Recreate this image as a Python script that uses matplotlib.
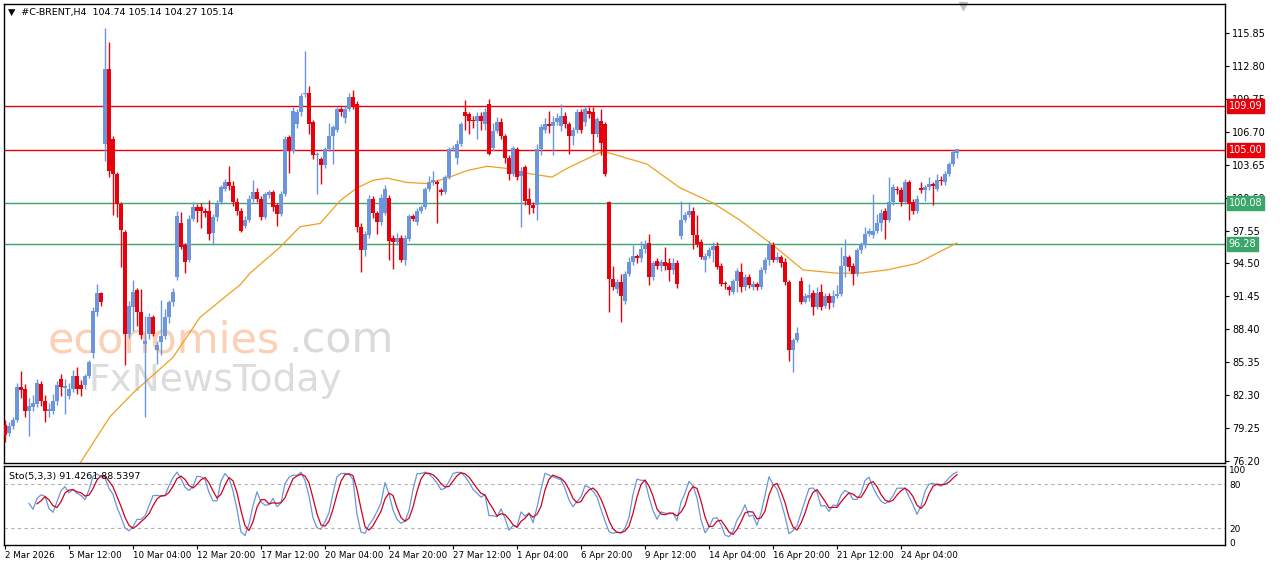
import numpy as np
import matplotlib
matplotlib.use("Agg")
import matplotlib.pyplot as plt

# ---- data (OHLC per H4 bar) ----
opens = [79.5,78.8,79.4,80.0,83.1,82.9,80.8,81.2,81.5,83.3,81.8,80.8,80.8,81.8,83.8,83.0,82.2,82.9,84.1,83.2,83.2,84.1,86.2,90.0,91.8,
 105.6,112.5,106.0,102.8,100.0,97.4,88.0,90.5,92.0,90.0,87.0,88.0,89.5,86.5,87.2,87.8,89.5,90.9,93.2,98.2,96.2,94.8,98.6,99.7,99.7,99.4,99.4,97.3,98.8,100.2,101.4,102.0,101.7,100.2,99.4,98.0,98.5,
 100.5,101.1,100.5,98.8,100.8,101.1,99.9,99.1,100.9,106.2,104.9,107.4,108.5,110.2,110.3,107.6,104.5,104.2,103.6,105.1,106.3,106.9,108.8,108.0,108.8,109.9,109.3,97.9,95.7,97.1,100.5,99.2,98.3,99.2,100.6,96.9,96.5,96.9,94.8,96.8,98.9,98.3,99.4,99.7,101.4,102.0,102.0,101.3,101.1,102.5,105.1,104.3,105.6,108.5,108.3,107.8,107.7,108.2,107.4,
 109.3,105.2,106.8,107.6,106.3,104.3,102.8,105.1,102.6,103.4,100.5,99.9,99.9,105.1,106.9,107.4,107.2,107.6,107.2,108.2,107.4,106.3,106.9,108.5,107.6,108.6,108.5,106.5,107.7,107.4,100.2,93.1,92.1,92.8,91.0,93.5,94.6,95.2,95.0,95.8,96.4,93.2,94.7,94.3,94.6,94.5,93.9,94.5,97.0,98.5,99.0,99.4,97.1,96.5,94.8,95.2,95.7,96.1,94.3,92.7,92.3,
 91.9,92.9,93.7,92.3,93.2,92.3,92.6,92.3,93.9,94.8,96.2,94.8,95.1,94.6,92.8,86.5,87.4,92.9,90.9,91.3,91.8,90.5,91.9,90.6,91.5,90.8,91.5,91.7,94.3,95.1,94.3,93.5,95.7,96.2,97.2,97.1,97.5,98.2,99.4,98.5,100.2,101.4,101.3,100.2,102.0,100.2,99.4,101.5,101.3,101.6,101.9,101.4,102.2,102.0,102.8,103.7,104.74]
highs = [80.0,79.8,80.3,83.4,84.5,83.3,82.0,82.3,83.8,83.6,82.3,81.6,82.4,83.6,84.3,83.8,83.4,84.6,84.9,83.7,84.3,85.6,90.5,92.6,91.9,
 116.3,115.0,106.3,103.0,100.2,97.6,91.0,93.0,92.2,92.1,89.6,89.9,89.7,87.3,91.1,90.3,91.1,92.2,99.4,99.3,96.4,99.0,100.2,100.0,100.1,99.6,100.4,99.1,100.4,101.8,102.3,103.5,102.1,100.6,99.6,98.9,100.8,
 102.2,101.5,100.7,101.1,101.3,101.3,100.1,101.2,106.3,106.4,109.0,108.8,110.3,114.2,110.9,107.8,104.8,104.4,105.3,107.5,107.3,109.0,109.0,109.1,110.3,110.6,109.5,98.2,97.5,100.8,100.7,99.4,100.9,101.8,100.8,97.1,97.3,97.1,97.1,99.1,99.1,99.6,99.9,101.6,102.6,103.1,102.2,101.5,102.7,105.3,105.5,105.9,107.6,109.6,108.5,108.2,108.5,108.5,108.9,
 109.7,107.5,108.1,108.0,106.5,104.5,105.4,105.3,103.4,103.6,101.5,100.2,105.6,107.4,108.0,108.6,108.2,108.4,109.3,108.5,107.6,107.1,108.8,108.8,109.1,109.0,109.0,108.1,108.8,107.6,100.3,94.3,93.1,93.5,93.8,95.1,96.2,95.4,96.6,96.7,97.2,94.7,95.0,94.9,96.0,95.0,95.0,94.8,100.3,99.3,100.2,99.7,99.0,96.8,95.5,96.0,96.5,96.5,94.5,92.9,92.5,
 93.1,94.1,94.5,93.5,93.5,92.9,92.8,94.2,95.1,96.6,96.5,95.6,95.3,95.0,93.0,87.6,88.6,93.2,91.8,92.6,92.0,92.3,92.6,91.8,91.8,92.0,92.5,96.0,96.8,95.3,94.5,95.9,96.5,97.9,97.8,100.9,99.1,99.5,99.6,102.5,101.9,101.7,101.6,102.3,102.2,100.5,100.8,102.0,101.8,102.5,102.0,102.8,102.6,103.1,103.9,105.0,105.14]
lows = [78.0,78.5,79.2,79.8,82.0,80.3,78.5,80.8,81.2,81.3,79.8,80.3,80.6,81.4,82.2,80.6,81.9,82.6,82.4,82.2,82.9,83.9,85.7,89.6,90.6,
 104.0,102.5,99.0,98.8,94.2,85.1,87.6,88.2,88.7,87.5,80.3,87.5,87.8,85.2,86.0,87.5,89.0,90.6,93.0,95.8,93.6,94.6,98.4,98.3,97.8,98.8,96.7,96.2,98.4,100.0,101.2,101.3,99.8,99.0,97.4,97.8,98.3,
 100.2,100.2,98.5,98.6,100.6,99.4,98.0,98.9,100.7,102.9,104.7,107.0,108.2,109.9,106.5,104.2,100.9,101.9,103.3,104.9,103.7,106.7,108.2,107.5,108.6,108.8,97.4,93.7,95.2,96.9,98.7,97.2,98.1,99.0,94.8,94.0,96.2,94.6,94.4,96.6,98.4,98.1,99.2,99.5,101.2,101.8,98.2,100.8,100.9,102.3,104.9,103.7,105.4,106.9,106.5,107.0,106.0,106.9,106.9,
 104.5,104.9,106.6,106.0,103.8,102.2,102.6,102.2,97.9,99.9,99.1,99.2,98.5,104.5,106.6,106.6,104.5,107.3,106.8,107.0,104.6,105.5,106.6,106.6,107.2,108.0,104.8,106.2,104.5,102.6,90.0,92.0,91.8,89.1,90.7,93.3,94.4,94.5,94.6,95.5,92.5,93.0,94.0,93.8,93.9,92.9,93.5,92.2,96.8,98.3,98.8,95.8,96.0,94.9,93.7,95.0,94.6,94.0,92.4,92.1,91.6,
 91.7,91.9,91.9,92.0,92.2,92.0,92.0,92.1,93.6,94.4,94.6,94.6,94.2,92.5,85.5,84.4,87.2,90.7,90.8,91.0,89.7,90.3,90.2,90.4,90.3,90.5,91.3,91.5,93.2,93.8,92.5,93.3,95.5,95.9,97.0,96.9,97.3,97.5,96.8,98.3,99.9,100.9,99.8,100.0,98.5,99.1,99.2,101.0,100.3,101.3,99.9,101.2,101.8,101.8,102.6,103.5,104.27]
closes = [78.6,79.4,80.0,83.1,82.8,80.8,81.3,81.6,83.4,81.8,80.8,81.0,81.8,83.2,83.1,83.0,82.9,84.1,82.9,82.9,84.1,85.4,90.1,91.8,90.9,
 112.5,103.1,102.8,100.0,97.6,88.0,90.6,91.9,90.0,87.9,87.3,89.5,88.0,86.9,87.8,89.5,90.9,91.9,98.9,96.0,94.6,98.6,99.7,99.4,99.4,99.2,97.2,98.8,100.0,101.6,102.0,101.7,100.2,99.4,97.5,98.5,100.5,
 101.1,100.5,98.8,100.9,101.1,99.7,99.1,100.9,106.0,104.9,108.6,108.5,110.0,110.3,107.4,104.5,104.6,103.6,105.1,106.3,107.1,108.8,108.5,108.8,109.9,109.1,97.9,95.7,97.2,100.5,99.2,98.3,100.6,101.4,96.6,96.5,96.9,94.8,96.9,98.9,98.6,99.4,99.7,101.4,102.0,102.2,101.9,101.1,102.5,105.1,105.2,105.6,107.4,108.2,107.7,107.7,108.2,107.7,108.5,
 104.6,106.8,107.6,106.3,104.3,102.8,105.2,102.5,103.1,100.3,99.9,99.6,105.1,107.1,107.4,107.2,107.6,108.0,108.2,107.4,106.3,106.9,108.5,106.9,108.8,108.3,106.5,107.9,105.7,102.8,93.1,92.3,92.8,91.5,93.5,94.6,95.2,95.0,95.8,96.2,93.2,94.5,94.3,94.6,94.3,93.9,94.5,92.6,98.5,99.0,99.4,97.1,96.3,95.1,95.2,95.7,96.1,94.2,92.6,92.6,92.0,
 92.9,93.8,92.3,93.2,92.5,92.6,92.3,93.9,94.8,96.2,94.8,95.1,94.5,92.8,86.5,87.4,88.1,90.9,91.5,91.6,90.5,91.8,90.5,91.5,90.8,91.5,91.7,94.3,95.2,94.2,93.5,95.7,96.3,97.2,97.5,97.5,98.2,99.2,98.5,100.2,101.6,101.3,100.2,102.0,100.0,99.4,100.5,101.3,101.6,101.9,101.7,102.2,102.1,102.8,103.7,104.8,105.14]

ma_bars = [18.75,26.25,32,42,48.75,57,58.75,61.25,68.75,73.75,78.75,83.75,88,92,95.5,100.5,105.5,110.5,115.5,120.5,125.5,131.25,136.75,140.5,149.5,160.5,168.75,177,183.75,192,199.5,208,213.75,220.5,228,238]
ma_vals = [76.0,80.3,82.5,85.8,89.5,92.0,92.5,93.6,96.0,97.9,98.2,100.3,101.5,102.2,102.4,102.0,101.9,102.4,103.1,103.5,103.3,102.8,102.5,103.3,104.9,103.7,101.5,100.1,98.5,96.2,93.9,93.6,93.6,93.9,94.5,96.4]

levels = [109.09, 105.00, 100.08, 96.28]
level_colors = ['#e8000b', '#e8000b', '#3aa66a', '#3aa66a']
price_ticks = [115.85,112.80,109.75,106.70,103.65,100.60,97.55,94.50,91.45,88.40,85.35,82.30,79.25,76.20]
date_labels = ['2 Mar 2026','5 Mar 12:00','10 Mar 04:00','12 Mar 20:00','17 Mar 12:00','20 Mar 04:00','24 Mar 20:00',
               '27 Mar 12:00','1 Apr 04:00','6 Apr 20:00','9 Apr 12:00','14 Apr 04:00','16 Apr 20:00','21 Apr 12:00','24 Apr 04:00']
label_step = 16

O = np.array(opens); H = np.array(highs); L = np.array(lows); C = np.array(closes)
n = len(C)
x = np.arange(n)

# stochastic 5,3,3
kp, slow, dp = 5, 3, 3
hh = np.array([H[max(0,i-kp+1):i+1].max() for i in range(n)])
ll = np.array([L[max(0,i-kp+1):i+1].min() for i in range(n)])
num = C - ll; den = hh - ll
K = np.full(n, np.nan)
for i in range(kp+slow-2, n):
    K[i] = num[i-slow+1:i+1].sum() / den[i-slow+1:i+1].sum() * 100
D = np.full(n, np.nan)
for i in range(kp+slow+dp-3, n):
    D[i] = np.mean(K[i-dp+1:i+1])

plt.rcParams['font.family'] = ['DejaVu Sans']
W, Hh = 1280, 567
fig = plt.figure(figsize=(12.8, 5.67), dpi=100)
fig.patch.set_facecolor('white')

def rect(l, t, r, b):
    return [l/W, 1-b/Hh, (r-l)/W, (b-t)/Hh]

ax = fig.add_axes(rect(4, 4, 1225, 463))
axs = fig.add_axes(rect(4, 466, 1225, 545))

x0 = -0.25; x1 = (1225-5)/4
ax.set_xlim(x0, x1)
ppx = 10.82
ax.set_ylim(76.20-(463-461)/ppx, 115.85+(33-4)/ppx)

blue = '#6b96dc'; red = '#e8000b'
up = C >= O
cols = np.where(up, blue, red)
ax.vlines(x, L, H, colors=cols, linewidth=1.0, zorder=3)
bot = np.minimum(O, C); ht = np.maximum(np.abs(C-O), 0.12)
ax.bar(x, ht, bottom=bot, width=0.78, color=cols, linewidth=0, zorder=4)

ax.plot(ma_bars, ma_vals, color='#f0a020', lw=0.9, zorder=2)

for lv, lc in zip(levels, level_colors):
    ax.axhline(lv, color=lc, lw=1.0, zorder=1)

ax.yaxis.tick_right()
ax.set_yticks(price_ticks)
ax.set_yticklabels([f'{t:.2f}' for t in price_ticks])
ax.tick_params(axis='y', direction='out', length=3, pad=2, labelsize=7, colors='black')
ax.set_xticks([])
for lv, lc in zip(levels, level_colors):
    ax.text(1.003, lv, f'{lv:.2f}', transform=ax.get_yaxis_transform(), ha='left', va='center',
            fontsize=7, color='white', zorder=10,
            bbox=dict(boxstyle='square,pad=0.2', fc=lc, ec=lc), clip_on=False)

ax.text(0.003, 0.992, '▼  #C-BRENT,H4  104.74 105.14 104.27 105.14', transform=ax.transAxes,
        ha='left', va='top', fontsize=6.8, color='black')
ax.plot([(963-5)/4], [118.3], marker='v', color='#c0c0c0', markersize=6, clip_on=False)

# watermark (positions in bar units)
ax.text((48-5)/4, 87.4, 'economies', fontsize=31, color='#fbd0b4', ha='left', va='center', zorder=0)
ax.text((288-5)/4, 87.4, '.com', fontsize=31, color='#dadada', ha='left', va='center', zorder=0)
ax.text((88-5)/4, 83.6, 'FxNewsToday', fontsize=27, color='#dcdcdc', ha='left', va='center', zorder=0)

for a in (ax, axs):
    for s in a.spines.values():
        s.set_color('black'); s.set_linewidth(1)

# stochastic panel
axs.set_xlim(x0, x1)
ppu = 44/60
axs.set_ylim(20-(545-528)/ppu, 80+(484-466)/ppu)
axs.axhline(80, color='#b0b0b0', ls=(0, (3, 3)), lw=0.8)
axs.axhline(20, color='#b0b0b0', ls=(0, (3, 3)), lw=0.8)
axs.plot(x, K, color='#6b96dc', lw=0.9)
axs.plot(x, D, color='#d0021b', lw=0.9)
axs.yaxis.tick_right()
axs.set_yticks([100, 80, 20, 0])
axs.tick_params(axis='y', direction='out', length=0, pad=3, labelsize=6.5)
axs.text(0.004, 0.93, 'Sto(5,3,3) 91.4261 88.5397', transform=axs.transAxes, ha='left', va='top', fontsize=6.8)
ticks = [i*label_step for i in range(len(date_labels))]
axs.set_xticks(ticks)
axs.set_xticklabels(date_labels, ha='left')
axs.tick_params(axis='x', direction='out', length=3, pad=1, labelsize=6.3)

fig.savefig('out.png', dpi=100)
